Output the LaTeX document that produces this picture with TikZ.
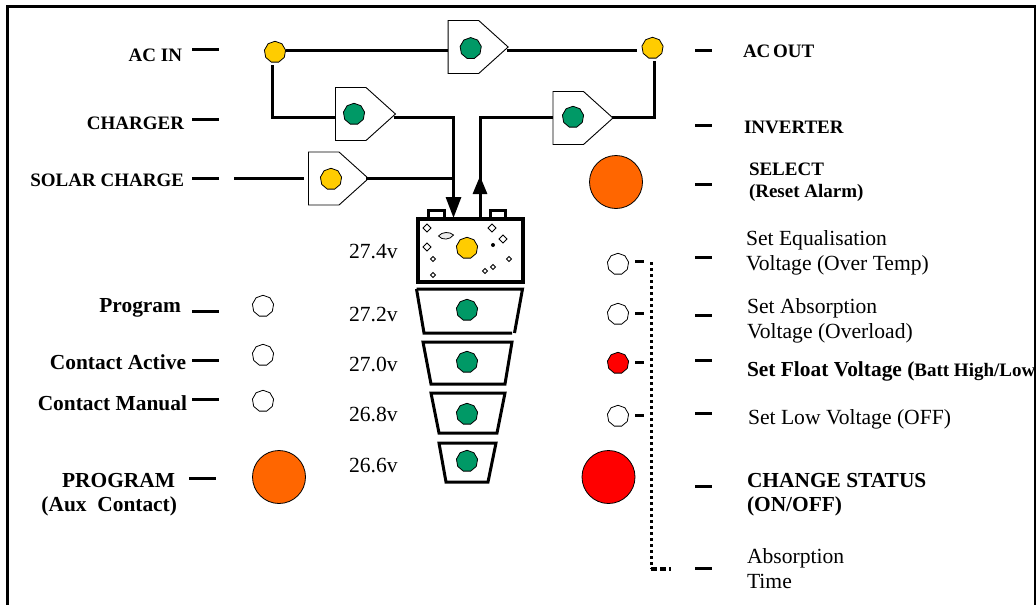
\documentclass[tikz,border=0pt]{standalone}
\usepackage{fontspec}
\setmainfont{Liberation Serif}
\usetikzlibrary{shapes.geometric,shapes.symbols,arrows.meta}
\definecolor{ledgreen}{HTML}{009966}
\definecolor{ledyellow}{HTML}{FFCC00}
\definecolor{ledorange}{HTML}{FF6600}
\definecolor{ledred}{HTML}{FF0000}
\tikzset{
  wire/.style={line width=3pt,line cap=butt,line join=miter},
  tick/.style={line width=3pt},
  led/.style={draw=black,line width=0.8pt,regular polygon,regular polygon sides=9,minimum size=21.5pt,inner sep=0pt,fill=#1},
  led/.default=white,
  bigled/.style={draw=black,line width=0.8pt,circle,minimum size=53pt,inner sep=0pt,fill=#1},
  valve/.style={draw=black,line width=0.9pt,fill=white,signal,signal to=east,signal pointer angle=84,minimum width=60pt,minimum height=53pt,inner sep=0pt,anchor=west},
  cell/.style={line width=3pt,line join=miter},
  chip/.style={draw=black,fill=white,line width=0.8pt},
  plain/.style={inner sep=0pt,outer sep=0pt,font=\fontsize{21.6}{25}\selectfont},
  heavy/.style={plain,font=\fontsize{21.4}{25}\selectfont\bfseries},
  caps/.style={plain,font=\fontsize{19}{22}\selectfont\bfseries},
}
\begin{document}
\begin{tikzpicture}[x=1pt,y=-1pt]
\useasboundingbox (0,0) rectangle (1036,605);
% frame
\draw[line width=3pt] (7.5,605) -- (7.5,6) -- (1035,6) -- (1035,605);
% valves
\node[valve] (pa) at (447.7,47) {};
\node[valve] (pb) at (335,114) {};
\node[valve] (pc) at (308,178.5) {};
\node[valve] (pd) at (552.5,118) {};
\node[led=ledgreen] (la) at (470.7,48.3) {};
\node[led=ledgreen] (lb) at (354,114) {};
\node[led=ledyellow] (lc) at (331,179) {};
\node[led=ledgreen] (ld) at (573,117) {};
\node[led=ledyellow] (acin) at (275,52) {};
\node[led=ledyellow] (acout) at (652.5,48) {};
% battery
\coordinate (jin) at (453.5,218);
\coordinate (jout) at (480,218);
\draw[line width=3pt,fill=white] (428.5,217) |- (444.5,210.5) -- (444.5,217);
\draw[line width=3pt,fill=white] (490.5,217) |- (505.5,210.5) -- (505.5,217);
\node[draw=black,line width=3.5pt,fill=white,minimum width=105pt,minimum height=63pt,inner sep=0pt] (batt) at (470.5,250.5) {};
\node[led=ledyellow] (lbatt) at (467,248) {};
% battery speckle
\foreach \px/\py/\pr in {427/228/4,427/247/4,433/259/2.5,433/275/2.5,492/228/4,503/239/4,509/259/2.5,493/267/2.5,485/271/2.5}
  \draw[chip] (\px-\pr,\py) -- (\px,\py-\pr) -- (\px+\pr,\py) -- (\px,\py+\pr) -- cycle;
\fill[black] (493,245) circle (2pt);
\draw[line width=0.8pt,fill=black!8] (438.5,236) .. controls (442,231.5) and (450,231.5) .. (453.5,235) .. controls (450,240) and (442,240.5) .. (438.5,236) -- cycle;
% wires
\coordinate (a1) at (286,50);
\coordinate (a2) at (637,50);
\coordinate (a3) at (507,50);
\coordinate (a4) at (448,50);
\coordinate (b0) at (272.5,65);
\coordinate (b1) at (272.5,117);
\coordinate (b2) at (335,117);
\coordinate (b3) at (394,117);
\coordinate (b4) at (453.5,117);
\coordinate (c0) at (234,178);
\coordinate (c1) at (304,178);
\coordinate (c2) at (366,178);
\coordinate (c3) at (453.5,178);
\coordinate (d1) at (480,117);
\coordinate (d2) at (553,117);
\coordinate (d3) at (612,117);
\coordinate (d4) at (654.5,117);
\coordinate (d5) at (654.5,61);
\draw[wire] (a1) -- (a4);
\draw[wire] (a3) -- (a2);
\draw[wire] (b0) -- (b1) -- (b2);
\draw[wire] (b3) -- (b4) -- (c3);
\draw[wire] (c0) -- (c1);
\draw[wire] (c2) -- (c3);
\draw[wire,-{Triangle[length=21pt,width=15pt]}] (c3) -- (jin);
\draw[wire,-{Triangle[length=18pt,width=14pt]}] (jout) -- (d1 |- 176,176);
\draw[wire] (jout) -- (d1) -- (d2);
\draw[wire] (d3) -- (d4) -- (d5);
% cells
\draw[cell] (416.5,289) -- (522.5,289) -- (514.5,333);
\draw[cell] (416.5,289) -- (424,333) -- (512,333);
\draw[cell] (423,342) -- (512,342) -- (505,384) -- (431,384) -- cycle;
\draw[cell] (431,393) -- (505,393) -- (497,433) -- (439,433) -- cycle;
\draw[cell] (439,443) -- (496,443) -- (488,482) -- (446,482) -- cycle;
\node[led=ledgreen] (lc1) at (467,310) {};
\node[led=ledgreen] (lc2) at (467,362) {};
\node[led=ledgreen] (lc3) at (467,414) {};
\node[led=ledgreen] (lc4) at (467,461) {};
% voltages
\node[plain,anchor=base west] (v1) at (349,258) {27.4v};
\node[plain,anchor=base west] (v2) at (349,321) {27.2v};
\node[plain,anchor=base west] (v3) at (349,371) {27.0v};
\node[plain,anchor=base west] (v4) at (349,421) {26.8v};
\node[plain,anchor=base west] (v5) at (349,472) {26.6v};
% lamps, left
\node[led] (l1) at (263,306) {};
\node[led] (l2) at (263,355) {};
\node[led] (l3) at (263,401) {};
\node[bigled=ledorange] (progbtn) at (279,477) {};
% lamps, right
\node[bigled=ledorange] (selbtn) at (616,182) {};
\node[led] (r1) at (618,264) {};
\node[led] (r2) at (618,314) {};
\node[led=ledred] (r3) at (618,363) {};
\node[led] (r4) at (618,416) {};
\node[bigled=ledred] (chgbtn) at (608.5,477) {};
% ticks
\foreach \ya in {49,119,178,311,360,399}
  \draw[tick] (192,\ya) -- (219,\ya);
\draw[tick] (189,478) -- (216,478);
\foreach \yb in {50,125,184,257,315,360,413,486,568}
  \draw[tick] (695,\yb) -- (712,\yb);
\foreach \yc in {261,313,362,415}
  \draw[tick] (635,\yc) -- (644,\yc);
% dotted riser
\coordinate (t1) at (651,262);
\coordinate (t2) at (651,569);
\coordinate (t3) at (671,569);
\draw[line width=3pt,dash pattern=on 3pt off 3pt] (t1) -- (t2);
\draw[line width=3.2pt,dash pattern=on 6pt off 3pt] (t2) -- (t3);
% left labels
\node[caps,anchor=base east] (tacin) at (182,61) {AC IN};
\node[caps,anchor=base east] (tchg) at (184,129) {CHARGER};
\node[caps,anchor=base east] (tsol) at (184,186) {SOLAR CHARGE};
\node[heavy,anchor=base east] (tprog) at (181,312) {Program};
\node[heavy,anchor=base east] (tact) at (186,369) {Contact Active};
\node[heavy,anchor=base east] (tman) at (187,410) {Contact Manual};
\node[heavy,anchor=base east] (tpg) at (175,487) {PROGRAM};
\node[heavy,anchor=base east] (taux) at (177,511) {(Aux\ \ Contact)};
% right labels
\node[caps,anchor=base west] (tout) at (743,57) {AC\kern-2pt\ OUT};
\node[caps,anchor=base west] (tinv) at (744,133) {INVERTER};
\node[caps,anchor=base west] (tsel) at (749,175) {SELECT};
\node[caps,anchor=base west] (trst) at (749,197) {(Reset Alarm)};
\node[plain,anchor=base west] (te1) at (746,245) {Set Equalisation};
\node[plain,anchor=base west] (te2) at (746,270) {Voltage (Over Temp)};
\node[plain,anchor=base west] (ta1) at (747,313) {Set Absorption};
\node[plain,anchor=base west] (ta2) at (747,338) {Voltage (Overload)};
\node[heavy,anchor=base west] (tf) at (747,376) {Set Float Voltage ({\fontsize{19}{20}\selectfont Batt High/Low}};
\node[plain,anchor=base west] (tl) at (748,424) {Set Low Voltage (OFF)};
\node[heavy,anchor=base west] (tc1) at (747,487) {CHANGE STATUS};
\node[heavy,anchor=base west] (tc2) at (747,511) {(ON/OFF)};
\node[plain,anchor=base west] (tt1) at (747,563) {Absorption};
\node[plain,anchor=base west] (tt2) at (747,588) {Time};
\end{tikzpicture}
\end{document}
